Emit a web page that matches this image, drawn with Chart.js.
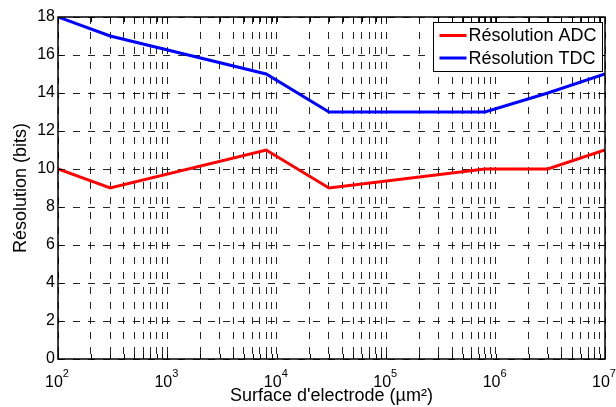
<!DOCTYPE html>
<html><head><meta charset="utf-8">
<script src="https://cdn.jsdelivr.net/npm/chart.js@4.4.0/dist/chart.umd.min.js"></script>
<style>html,body{margin:0;padding:0;background:#fff;}#wrap{width:616px;height:407px;}</style>
</head><body><div id="wrap"><canvas id="c" width="616" height="407"></canvas></div>
<script>
const surfaces = [100, 300, 8000, 30000, 800000, 3000000, 10000000];
const adcBits = [10, 9, 11, 9, 10, 10, 11];
const tdcBits = [18, 17, 15, 13, 13, 14, 15];
const seriesLabels = ['Résolution ADC', 'Résolution TDC'];
const seriesColors = ['#ff0000', '#0000ff'];
const xTickExponents = [2, 3, 4, 5, 6, 7];
const yTickValues = [0, 2, 4, 6, 8, 10, 12, 14, 16, 18];
const xTitle = "Surface d'electrode (µm²)";
const yTitle = 'Résolution (bits)';
const FONT = "'Liberation Sans', Arial, sans-serif";

// log grid positions (1..9 x 10^e per decade)
const xGridValues = [];
xTickExponents.forEach((e, i) => {
  if (i < xTickExponents.length - 1) {
    for (let m = 1; m <= 9; m++) xGridValues.push(m * Math.pow(10, e));
  } else {
    xGridValues.push(Math.pow(10, e));
  }
});

const GRID_COLOR = 'rgba(0,0,0,0.85)';
const GRID_DASH = [7, 8];

const framePlugin = {
  id: 'matlabFrame',
  afterDraw(chart) {
    const ctx = chart.ctx;
    const ca = chart.chartArea;
    const xs = chart.scales.x, ys = chart.scales.y;
    ctx.save();
    // tick marks (inward)
    ctx.strokeStyle = '#000';
    ctx.lineWidth = 1;
    ctx.setLineDash([]);
    ctx.beginPath();
    xGridValues.forEach(v => {
      const px = Math.round(xs.getPixelForValue(v)) + 0.5;
      ctx.moveTo(px, ca.bottom); ctx.lineTo(px, ca.bottom - 5);
      ctx.moveTo(px, ca.top); ctx.lineTo(px, ca.top + 5);
    });
    yTickValues.forEach(v => {
      const py = Math.round(ys.getPixelForValue(v)) + 0.5;
      ctx.moveTo(ca.left, py); ctx.lineTo(ca.left + 5, py);
      ctx.moveTo(ca.right, py); ctx.lineTo(ca.right - 5, py);
    });
    ctx.stroke();
    // box
    ctx.lineWidth = 1.5;
    ctx.strokeRect(ca.left, ca.top, ca.right - ca.left, ca.bottom - ca.top);

    // x tick labels 10^n
    ctx.fillStyle = '#000';
    ctx.textBaseline = 'alphabetic';
    ctx.textAlign = 'left';
    xTickExponents.forEach(e => {
      const px = xs.getPixelForValue(Math.pow(10, e));
      ctx.font = '16px ' + FONT;
      const w1 = ctx.measureText('10').width;
      ctx.font = '11px ' + FONT;
      const w2 = ctx.measureText(String(e)).width;
      const sx = px - (w1 + w2) / 2 - 1;
      ctx.font = '16px ' + FONT;
      ctx.fillText('10', sx, 387);
      ctx.font = '11px ' + FONT;
      ctx.fillText(String(e), sx + w1, 377);
    });

    // legend
    const lw = 169, lh = 49;
    const lx = Math.round(ca.right - 3 - lw) + 0.5, ly = Math.round(ca.top + 5) + 0.5;
    ctx.fillStyle = '#fff';
    ctx.fillRect(lx, ly, lw, lh);
    ctx.strokeStyle = '#000';
    ctx.lineWidth = 1;
    ctx.strokeRect(lx, ly, lw, lh);
    ctx.font = '18px ' + FONT;
    ctx.textBaseline = 'middle';
    chart.data.datasets.forEach((ds, i) => {
      const ry = ly + 13 + i * 22.5;
      ctx.strokeStyle = ds.borderColor;
      ctx.lineWidth = 3;
      ctx.beginPath();
      ctx.moveTo(lx + 6, ry); ctx.lineTo(lx + 33, ry);
      ctx.stroke();
      ctx.fillStyle = '#000';
      ctx.fillText(ds.label, lx + 35, ry + 1);
    });
    ctx.restore();
  }
};

new Chart(document.getElementById('c'), {
  type: 'line',
  data: {
    datasets: [
      { label: seriesLabels[0], data: surfaces.map((s, i) => ({x: s, y: adcBits[i]})),
        borderColor: seriesColors[0], backgroundColor: seriesColors[0], borderWidth: 3, pointRadius: 0, fill: false, tension: 0 },
      { label: seriesLabels[1], data: surfaces.map((s, i) => ({x: s, y: tdcBits[i]})),
        borderColor: seriesColors[1], backgroundColor: seriesColors[1], borderWidth: 3, pointRadius: 0, fill: false, tension: 0 }
    ]
  },
  options: {
    responsive: false,
    animation: false,
    devicePixelRatio: 1,
    layout: { padding: { left: 0, right: 11, top: 17, bottom: 0 } },
    plugins: { legend: { display: false }, tooltip: { enabled: false } },
    scales: {
      x: {
        type: 'logarithmic', min: 100, max: 10000000,
        afterBuildTicks: s => { s.ticks = xGridValues.map(v => ({ value: v })); },
        afterFit: s => { s.height = 48; },
        ticks: { display: false, autoSkip: false },
        grid: { color: GRID_COLOR, lineWidth: 1, drawTicks: false },
        border: { display: false, dash: GRID_DASH },
        title: { display: true, text: xTitle, color: '#000', font: { family: FONT, size: 18, lineHeight: 1.2 }, padding: { top: 0, bottom: 0 } }
      },
      y: {
        type: 'linear', min: 0, max: 18,
        afterBuildTicks: s => { s.ticks = yTickValues.map(v => ({ value: v })); },
        afterFit: s => { s.width = 58; },
        ticks: { color: '#000', font: { family: FONT, size: 16 }, padding: 3, autoSkip: false, callback: v => String(v) },
        grid: { color: GRID_COLOR, lineWidth: 1, drawTicks: false },
        border: { display: false, dash: GRID_DASH },
        title: { display: true, text: yTitle, color: '#000', font: { family: FONT, size: 18, lineHeight: 1.2 }, padding: { top: 10, bottom: 0 } }
      }
    }
  },
  plugins: [framePlugin]
});
</script>
</body></html>
